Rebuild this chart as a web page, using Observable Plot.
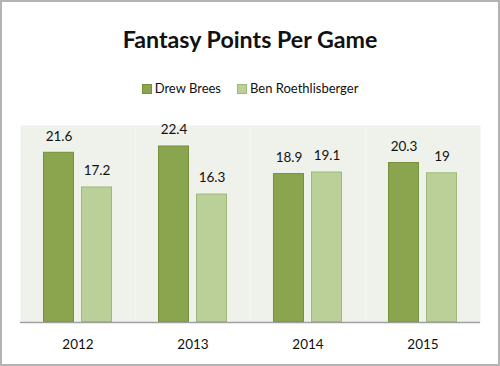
<!DOCTYPE html>
<html><head>
<meta charset="utf-8">
<script src="https://cdn.jsdelivr.net/npm/d3@7"></script>
<script src="https://cdn.jsdelivr.net/npm/@observablehq/plot@0.6"></script>
<style>
body{margin:0;background:#fff;}
#c{position:relative;width:500px;height:366px;box-shadow:inset 0 0 0 2px #b3b3b3;font-family:Lato,"Open Sans",sans-serif;overflow:hidden;color:#111}
#t{position:absolute;left:0;width:500px;top:24px;text-align:center;font-weight:bold;font-size:23.2px;line-height:30px;}
#l{position:absolute;left:0;width:500px;top:80px;text-align:center;font-size:13px;line-height:16px;}
#l span.it{display:inline-block;margin:0 8px;}
#l i{display:inline-block;width:8px;height:8px;margin-right:3px;vertical-align:-1px;}
#p{position:absolute;left:0;top:110px;}
</style>
</head><body>
<div id="c">
<div id="t">Fantasy Points Per Game</div>
<div id="l"></div>
<div id="p"></div>
</div>
<script>
const years = ["2012","2013","2014","2015"];
const players = ["Drew Brees","Ben Roethlisberger"];
const breesValues = [21.6,22.4,18.9,20.3];
const roethValues = [17.2,16.3,19.1,19];
const fills = ["#8aa54e","#bbd099"];
const strokes = ["#76913c","#9fb979"];

const data = [];
years.forEach((y,i)=>{
  data.push({year:y, player:players[0], value:breesValues[i]});
  data.push({year:y, player:players[1], value:roethValues[i]});
});

document.getElementById("l").innerHTML = players.map((p,i)=>
  `<span class="it"><i style="background:${fills[i]};border:1px solid ${strokes[i]}"></i>${p}</span>`).join("");

const chart = Plot.plot({
  width:500, height:254,
  marginLeft:19, marginRight:19, marginTop:15, marginBottom:42,
  style:{fontFamily:"Lato, 'Open Sans', sans-serif", fontSize:"13.5px", color:"#111", background:"transparent"},
  fx:{domain:years, padding:0, axis:"bottom", tickSize:0, tickPadding:17, label:null},
  x:{domain:players, axis:null, paddingInner:0.195, paddingOuter:0.597},
  y:{domain:[0,25], axis:null},
  marks:[
    Plot.frame({fill:"#eff2ea", stroke:null}),
    ...players.map((p,i)=>Plot.barY(data.filter(d=>d.player===p),{fx:"year", x:"player", y:"value", fill:fills[i], stroke:strokes[i], strokeWidth:1, inset:0.5})),
    Plot.ruleY([0],{stroke:"#a0a0a0", strokeWidth:1.5}),
    Plot.text(data,{fx:"year", x:"player", y:"value", text:d=>String(d.value), dy:-16, fill:"#111", fontSize:13.5})
  ]
});
document.getElementById("p").appendChild(chart);
</script>
</body></html>
